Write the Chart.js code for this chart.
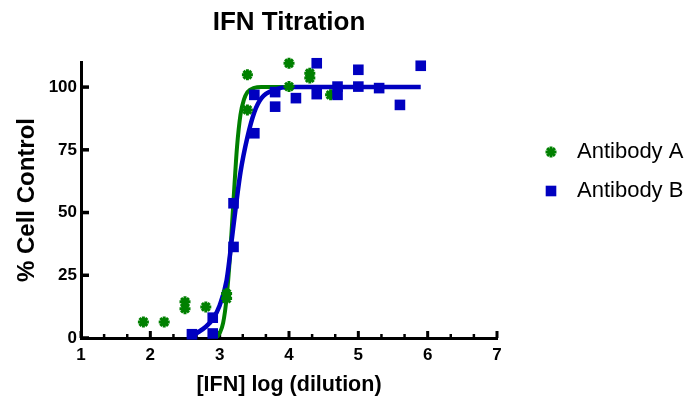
<!DOCTYPE html>
<html>
<head>
<meta charset="utf-8">
<script src="https://cdn.jsdelivr.net/npm/chart.js@4.4.0/dist/chart.umd.min.js"></script>
<style>
  html, body { margin: 0; padding: 0; background: #fff; }
</style>
</head>
<body>
<canvas id="grafico" width="689" height="402"></canvas>
<script>
// Puntos
const dilucionA = [1.9, 2.2, 2.5, 2.5, 2.8, 3.1, 3.1, 3.4, 3.4, 4.0, 4.0, 4.3, 4.3, 4.6];
const controlA  = [6.4, 6.4, 14.4, 11.7, 12.4, 17.7, 15.7, 104.9, 90.9, 109.5, 100.2, 105.5, 103.6, 96.9];

const dilucionB = [2.6, 2.9, 2.9, 3.2, 3.2, 3.5, 3.5, 3.8, 3.8, 4.1, 4.4, 4.4, 4.7, 4.7, 5.0, 5.0, 5.3, 5.6, 5.9];
const controlB  = [1.5, 8.1, 1.8, 53.7, 36.3, 96.9, 81.6, 92.2, 98.0, 95.6, 109.5, 97.2, 100.2, 96.9, 106.9, 100.2, 99.6, 92.9, 108.5];

// Curvas de ajuste (leidas a mano del grafico)
const curvaAx = [2.95, 3.0, 3.05, 3.1, 3.15, 3.2, 3.25, 3.3, 3.35, 3.4, 3.5, 3.6, 4.0, 4.6];
const curvaAy = [0, 2, 6, 16, 33, 55, 76, 89, 95, 98, 99.7, 100, 100, 100];
const curvaBx = [2.6, 2.7, 2.8, 2.9, 3.0, 3.1, 3.2, 3.3, 3.4, 3.5, 3.6, 3.8, 4.0, 5.9];
const curvaBy = [1, 2.5, 4.5, 7.5, 13, 23, 45, 66, 80, 90, 95.5, 99, 100, 100];

const etiquetas = ['Antibody A', 'Antibody B'];
const ejeX = { min: 1, max: 7, paso: 1 };
const ejeY = { min: 0, max: 110, paso: 25 };

const fuente = "'Liberation Sans', Arial, sans-serif";
const verde = '#008000';
const azul = '#0000c0';

const aPuntos = (xs, ys) => xs.map((x, i) => ({ x: x, y: ys[i] }));

// Marcas de los ejes hacia adentro (mayores y menores en x)
const marcasInternas = {
    id: 'marcasInternas',
    beforeDatasetsDraw(chart) {
        const { ctx, scales: { x, y } } = chart;
        const base = y.getPixelForValue(ejeY.min);
        ctx.save();
        ctx.strokeStyle = '#000';
        for (let i = 0; i <= (ejeX.max - ejeX.min) * 3; i++) {
            const px = x.getPixelForValue(ejeX.min + i / 3);
            const mayor = i % 3 === 0;
            ctx.lineWidth = mayor ? 3 : 2.5;
            ctx.beginPath();
            ctx.moveTo(px, base);
            ctx.lineTo(px, base - (mayor ? 7 : 4));
            ctx.stroke();
        }
        ctx.lineWidth = 3.5;
        y.ticks.forEach(t => {
            const py = y.getPixelForValue(t.value);
            ctx.beginPath();
            ctx.moveTo(x.left, py);
            ctx.lineTo(x.left + 8, py);
            ctx.stroke();
        });
        ctx.restore();
    }
};

// Leyenda a la derecha
const leyenda = {
    id: 'leyenda',
    afterDraw(chart) {
        const ctx = chart.ctx;
        const filas = [152, 191];
        ctx.save();
        chart.data.datasets.slice(0, 2).forEach((ds, i) => {
            const cx = 551, cy = filas[i];
            ctx.fillStyle = ds.backgroundColor;
            ctx.strokeStyle = ds.borderColor;
            ctx.lineWidth = ds.borderWidth;
            if (ds.pointStyle === 'star') {
                const r = ds.pointRadius;
                for (let k = 0; k < 4; k++) {
                    const ang = k * Math.PI / 4;
                    ctx.beginPath();
                    ctx.moveTo(cx - Math.cos(ang) * r, cy - Math.sin(ang) * r);
                    ctx.lineTo(cx + Math.cos(ang) * r, cy + Math.sin(ang) * r);
                    ctx.stroke();
                }
            } else {
                const s = ds.pointRadius * Math.SQRT1_2;
                ctx.fillRect(cx - s, cy - s, 2 * s, 2 * s);
            }
            ctx.fillStyle = '#000';
            ctx.font = `22px ${fuente}`;
            ctx.textAlign = 'left';
            ctx.textBaseline = 'middle';
            ctx.fillText(ds.label, 577, cy);
        });
        ctx.restore();
    }
};

const ctx = document.getElementById('grafico').getContext('2d');
const miGrafico = new Chart(ctx, {
    type: 'scatter',
    data: {
        datasets: [
            {
                label: etiquetas[0],
                data: aPuntos(dilucionA, controlA),
                pointStyle: 'star',
                pointRadius: 5.5,
                borderWidth: 3,
                borderColor: verde,
                backgroundColor: verde,
                clip: false,
                order: 2
            },
            {
                label: etiquetas[1],
                data: aPuntos(dilucionB, controlB),
                pointStyle: 'rect',
                pointRadius: 7.5,
                borderWidth: 0,
                borderColor: azul,
                backgroundColor: azul,
                clip: false,
                order: 1
            },
            {
                label: 'ajuste A',
                type: 'line',
                data: aPuntos(curvaAx, curvaAy),
                borderColor: verde,
                borderWidth: 4,
                pointRadius: 0,
                cubicInterpolationMode: 'monotone',
                fill: false,
                order: 4
            },
            {
                label: 'ajuste B',
                type: 'line',
                data: aPuntos(curvaBx, curvaBy),
                borderColor: azul,
                borderWidth: 4.5,
                pointRadius: 0,
                cubicInterpolationMode: 'monotone',
                fill: false,
                order: 3
            }
        ]
    },
    options: {
        responsive: false,
        animation: false,
        devicePixelRatio: 1,
        layout: { padding: { left: 0, right: 192, top: 0, bottom: 0 } },
        plugins: {
            legend: { display: false },
            tooltip: { enabled: false },
            title: {
                display: true,
                text: 'IFN Titration',
                color: '#000',
                fullSize: false,
                font: { family: fuente, size: 26, weight: 'bold' },
                padding: { top: 7.5, bottom: 23.3 }
            }
        },
        scales: {
            x: {
                type: 'linear',
                min: ejeX.min,
                max: ejeX.max,
                afterFit(escala) { escala.height = 64; },
                grid: { display: false, drawTicks: false },
                border: { display: true, color: '#000', width: 3 },
                ticks: {
                    stepSize: ejeX.paso,
                    color: '#000',
                    padding: 7,
                    maxRotation: 0,
                    font: { family: fuente, size: 17, weight: 'bold' }
                },
                title: {
                    display: true,
                    text: '[IFN] log (dilution)',
                    color: '#000',
                    font: { family: fuente, size: 21.5, weight: 'bold' },
                    padding: { top: 0, bottom: 4 }
                }
            },
            y: {
                min: ejeY.min,
                max: ejeY.max,
                afterFit(escala) { escala.width = 81; },
                grid: { display: false, drawTicks: false },
                border: { display: true, color: '#000', width: 3 },
                ticks: {
                    stepSize: ejeY.paso,
                    includeBounds: false,
                    color: '#000',
                    padding: 4,
                    font: { family: fuente, size: 17, weight: 'bold' }
                },
                title: {
                    display: true,
                    text: '% Cell Control',
                    color: '#000',
                    font: { family: fuente, size: 24, weight: 'bold' },
                    padding: { top: 13, bottom: 0 }
                }
            }
        }
    },
    plugins: [marcasInternas, leyenda]
});
</script>
</body>
</html>
